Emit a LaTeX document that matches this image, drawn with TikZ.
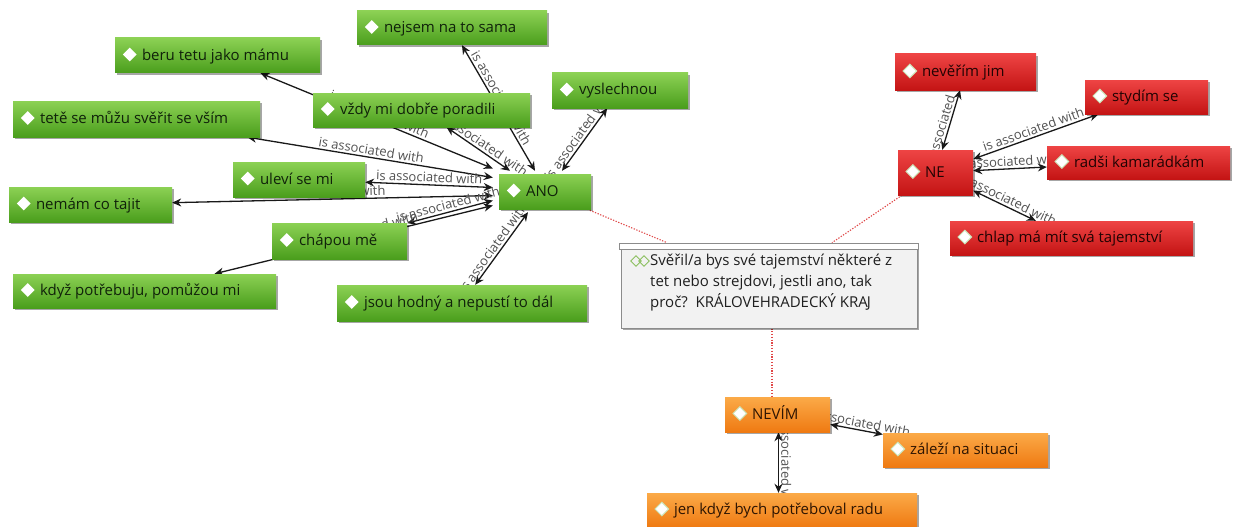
\documentclass[tikz,border=0pt]{standalone}
\usepackage{fontspec}
\setmainfont{Open Sans}
\usetikzlibrary{arrows.meta,shapes.geometric,fit,shadows}
\pgfdeclarelayer{canvas}
\pgfdeclarelayer{background}
\pgfsetlayers{canvas,background,main}
\definecolor{gtop}{HTML}{8CD154}
\definecolor{gbot}{HTML}{4A9E1C}
\definecolor{rtop}{HTML}{EE4444}
\definecolor{rbot}{HTML}{C41414}
\definecolor{otop}{HTML}{FBAA48}
\definecolor{obot}{HTML}{EF7A12}
\definecolor{gtxt}{HTML}{10220A}
\definecolor{rtxt}{HTML}{220303}
\definecolor{otxt}{HTML}{2E1502}
\definecolor{linkred}{HTML}{E04848}
\definecolor{qicon}{HTML}{8CC060}
\tikzset{
  box/.style={inner sep=0pt, draw=none,
    drop shadow={shadow xshift=2pt, shadow yshift=-2pt, opacity=.35, fill=black}},
  gbox/.style={box, top color=gtop, bottom color=gbot},
  rbox/.style={box, top color=rtop, bottom color=rbot},
  obox/.style={box, top color=otop, bottom color=obot},
  diabase/.style={diamond, fill=white, minimum width=14pt, minimum height=14pt, inner sep=0pt},
  diagbox/.style={diabase},
  diarbox/.style={diabase, draw=qicon!45, line width=1pt},
  diaobox/.style={diabase, draw=qicon!45, line width=1pt},
  txtbase/.style={inner sep=0pt, font=\fontsize{15}{18}\selectfont, anchor=base west},
  txtgbox/.style={txtbase, text=gtxt},
  txtrbox/.style={txtbase, text=rtxt},
  txtobox/.style={txtbase, text=otxt},
  assoc/.style={line width=1.3pt, black!90,
    {Stealth[length=9pt,width=8pt]}-{Stealth[length=9pt,width=8pt]}},
  lbl/.style={font=\fontsize{13}{14}\selectfont, text=black!68, sloped, inner sep=2pt},
  link/.style={linkred, line width=1.1pt, dash pattern=on 1.3pt off 1.5pt},
}
\newcommand\mybox[7]{%
  \node[#6, fit={(#2,#3)(#4,#5)}] (#1) {};
  \node[dia#6] (#1-d) at ([xshift=15pt,yshift=1pt]#1.west) {};
  \node[txt#6] (#1-t) at ([xshift=27pt,yshift=-4.5pt]#1.west) {#7};
}
\begin{document}
\begin{tikzpicture}[x=1pt,y=-1pt]
\useasboundingbox (0,0) rectangle (1242,527);
\begin{pgfonlayer}{canvas}
\fill[white] (0,0) rectangle (1242,527);
\end{pgfonlayer}

% question box
\node[fill=black!5, draw=black!45, line width=0.6pt, inner sep=0pt,
      drop shadow={shadow xshift=2pt, shadow yshift=-2pt, opacity=.35, fill=black},
      fit={(621,243)(917,328)}] (Q) {};
\node[fill=white, draw=black!45, line width=0.6pt, inner sep=0pt,
      fit={(619,243)(918,249)}] (Qbar) {};
\node[diamond, draw=qicon, line width=0.9pt, minimum width=11pt, minimum height=11pt, inner sep=0pt] (qi1) at (636,261) {};
\node[diamond, draw=qicon, line width=0.9pt, minimum width=11pt, minimum height=11pt, inner sep=0pt] (qi2) at (644,261) {};
\node[anchor=north west, inner sep=0pt, align=left, text=black!88,
      font=\fontsize{15}{21}\selectfont] (Qt) at (650,253.5)
  {Svěřil/a bys své tajemství některé z\\tet nebo strejdovi, jestli ano, tak\\proč?~~KRÁLOVEHRADECKÝ KRA\kern-1.2pt J};

% green
\mybox{nejsem}{357}{11}{547}{45}{gbox}{nejsem na to sama}
\mybox{beru}{115}{38}{320}{73}{gbox}{beru tetu jako mámu}
\mybox{vyslechnou}{552}{73}{688}{108}{gbox}{vyslechnou}
\mybox{vzdy}{313}{93}{530}{127}{gbox}{vždy mi dobře poradili}
\mybox{tete}{13}{101}{260}{137}{gbox}{tetě se můžu svěřit se vším}
\mybox{ulevi}{233}{162}{365}{197}{gbox}{uleví se mi}
\mybox{nemam}{9}{187}{172}{222}{gbox}{nemám co tajit}
\mybox{ANO}{499}{174}{591}{209}{gbox}{ANO}
\mybox{chapou}{272}{223}{407}{259}{gbox}{chápou mě}
\mybox{kdyz}{13}{274}{276}{308}{gbox}{když potřebuju, pomůžou mi}
\mybox{jsou}{337}{285}{587}{321}{gbox}{jsou hodný a nepustí to dál}
% red
\mybox{nevrim}{895}{54}{1036}{90}{rbox}{nevěřím jim}
\mybox{stydim}{1085}{80}{1208}{114}{rbox}{stydím se}
\mybox{NE}{898}{150}{973}{195}{rbox}{NE}
\mybox{radsi}{1047}{146}{1230}{179}{rbox}{radši kamarádkám}
\mybox{chlap}{950}{221}{1193}{255}{rbox}{chlap má mít svá tajemství}
% orange
\mybox{NEVIM}{725}{397}{830}{432}{obox}{NEVÍM}
\mybox{zalezi}{883}{433}{1048}{467}{obox}{záleží na situaci}
\mybox{jen}{647}{493}{917}{527}{obox}{jen když bych potřeboval radu}

\begin{pgfonlayer}{background}
% ANO connectors
\draw[assoc] ([shift={(-6pt,23pt)}]ANO.west) -- node[lbl,above]{is associated with} (beru);
\draw[assoc] ([shift={(-6pt,14pt)}]ANO.west) -- node[lbl,above]{is associated with} (tete);
\draw[assoc] ([shift={(-6pt,4pt)}]ANO.west) -- node[lbl,above]{is associated with} (ulevi);
\draw[assoc] ([shift={(-6pt,-4pt)}]ANO.west) -- node[lbl,above]{is associated with} (nemam);
\draw[assoc] ([shift={(-6pt,-9pt)}]ANO.west) -- node[lbl,above]{is associated with} (chapou);
\draw[assoc] ([shift={(-6pt,-14pt)}]ANO.west) -- node[lbl,above,pos=.45]{is associated with} (kdyz);
\draw[assoc] ([shift={(-35pt,3pt)}]ANO.north) -- node[lbl,above]{is associated with} (vzdy);
\draw[assoc] ([shift={(-10pt,3pt)}]ANO.north) -- node[lbl,above,pos=.55]{is associated with} (nejsem);
\draw[assoc] ([shift={(17pt,3pt)}]ANO.north) -- node[lbl,above]{is associated with} (vyslechnou);
\draw[assoc] ([shift={(-17pt,-3pt)}]ANO.south) -- node[lbl,above,pos=.55]{is associated with} (jsou);
% NE connectors
\draw[assoc] (NE) -- node[lbl,above]{is associated with} (nevrim);
\draw[assoc] (NE) -- node[lbl,above]{is associated with} (stydim);
\draw[assoc] (NE) -- node[lbl,above]{is associated with} (radsi);
\draw[assoc] (NE) -- node[lbl,above]{is associated with} (chlap);
% NEVIM connectors
\draw[assoc] (NEVIM) -- node[lbl,above]{is associated with} (zalezi);
\draw[assoc] ([xshift=1pt]NEVIM.south) -- node[lbl,above]{is associated with} ([xshift=1pt]NEVIM.south |- jen.north);
% dotted links to the question
\draw[link] (ANO) -- (Q);
\draw[link] (NE) -- (Q);
\draw[link] ([xshift=3pt]Q.south) -- ([xshift=3pt]Q.south |- NEVIM.north);
\end{pgfonlayer}
\end{tikzpicture}
\end{document}
